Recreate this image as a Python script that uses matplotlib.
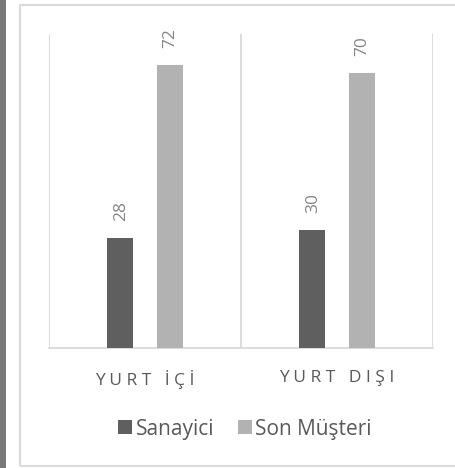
import matplotlib
matplotlib.use("Agg")
import matplotlib.pyplot as plt
from matplotlib.patches import Rectangle
import numpy as np

categories = ["YURT İÇİ", "YURT DIŞI"]
series_names = ["Sanayici", "Son Müşteri"]
sanayici = [28, 30]
son_musteri = [72, 70]
colors = ["#5f5f5f", "#b2b2b2"]

plt.rcParams['font.family'] = ['Open Sans', 'DejaVu Sans']

W, H = 456, 468
fig = plt.figure(figsize=(W / 100, H / 100), dpi=100)
fig.patch.set_facecolor("white")

# left dark strip
fig.patches.append(Rectangle((0, 0), 6 / W, 1, transform=fig.transFigure,
                             facecolor="#787878", edgecolor="none", zorder=0))
# chart border
fig.patches.append(Rectangle((20 / W, 1 - 466 / H), 460 / W, 461 / H,
                             transform=fig.transFigure, facecolor="none",
                             edgecolor="#d9d9d9", linewidth=1.5, zorder=1))

left, right = 49 / W, 433 / W
bottom, top = 1 - 348 / H, 1 - 34 / H
ax = fig.add_axes([left, bottom, right - left, top - bottom])
ax.set_facecolor("none")

x = np.arange(len(categories))
off = 0.128
bw = 0.135
b1 = ax.bar(x - off, sanayici, width=bw, color=colors[0], label=series_names[0], zorder=3)
b2 = ax.bar(x + off, son_musteri, width=bw, color=colors[1], label=series_names[1], zorder=3)

for bars, vals in ((b1, sanayici), (b2, son_musteri)):
    for r, v in zip(bars, vals):
        ax.annotate(str(v), (r.get_x() + r.get_width() / 2, r.get_height()),
                    xytext=(1, 17), textcoords="offset pixels", rotation=90,
                    ha="center", va="bottom", fontsize=12.5, color="#858585")

ax.set_xlim(-0.5, len(categories) - 0.5)
ax.set_ylim(0, 80)
ax.set_yticks([])
for b in np.arange(-0.5, len(categories), 1.0):
    ax.axvline(b, color="#d9d9d9", linewidth=1.3, zorder=1)
for s in ("left", "right", "top"):
    ax.spines[s].set_visible(False)
ax.spines["bottom"].set_color("#d9d9d9")
ax.spines["bottom"].set_linewidth(1.3)
ax.set_xticks(x)
ax.set_xticklabels([" ".join(list(c)) for c in categories], fontsize=12.5, color="#595959")
ax.tick_params(axis="x", length=0, pad=16)

leg = fig.legend(handles=[b1, b2], labels=series_names, loc="center",
                 bbox_to_anchor=(245 / W, 1 - 429 / H), ncol=2, frameon=False,
                 fontsize=15, handlelength=0.68, handleheight=0.68,
                 handletextpad=0.15, columnspacing=1.15)
for t in leg.get_texts():
    t.set_color("#595959")

fig.savefig("out.png", dpi=100)
